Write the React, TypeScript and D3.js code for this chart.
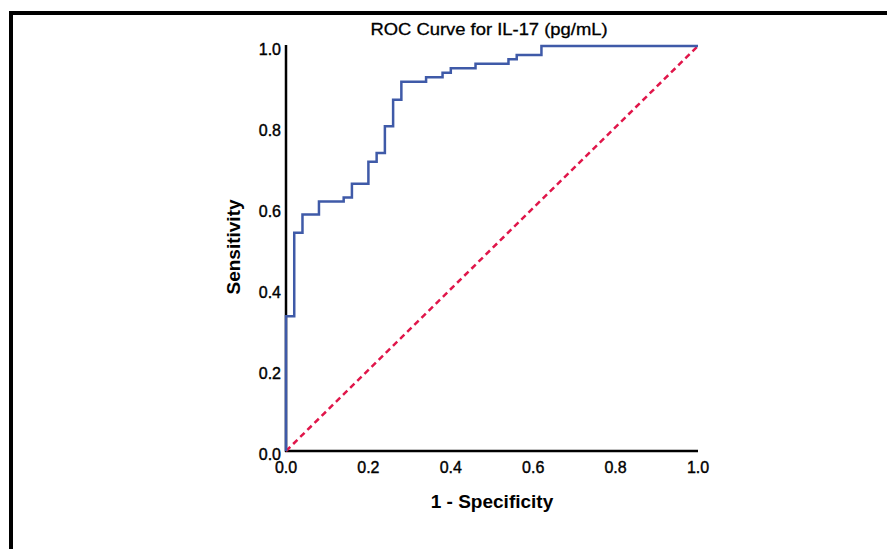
import * as d3 from 'd3';

// ROC step points: x where each horizontal run ends, y = its level
const fpr = [0, 0.02, 0.04, 0.08, 0.14, 0.16, 0.2, 0.22, 0.24, 0.26, 0.28, 0.34, 0.38, 0.4, 0.46, 0.54, 0.56, 0.62, 1.0];
const tpr = [0, 0.333, 0.539, 0.584, 0.616, 0.626, 0.66, 0.714, 0.736, 0.802, 0.867, 0.912, 0.923, 0.934, 0.945, 0.956, 0.967, 0.978, 1.0];
const tickValues = [0, 0.2, 0.4, 0.6, 0.8, 1.0];
const title = 'ROC Curve for IL-17 (pg/mL)';
const xLabel = '1 - Specificity';
const yLabel = 'Sensitivity';

const width = 887;
const height = 549;
const plot = { left: 286, right: 698, top: 46, bottom: 451 };
const font = '"Liberation Sans", Arial, sans-serif';
const stretch = 1.15; // title text in the source is a bit wide

export default function App() {
  const x = d3.scaleLinear().domain([0, 1]).range([plot.left, plot.right]);
  const y = d3.scaleLinear().domain([0, 1]).range([plot.bottom, plot.top]);

  const points: [number, number][] = fpr.map((f, i) => [f, tpr[i]]);
  const roc = d3.line<[number, number]>()
    .x(d => x(d[0]))
    .y(d => y(d[1]))
    .curve(d3.curveStepBefore)(points);

  const fmt = d3.format('.1f');

  return (
    <svg width={width} height={height} style={{ position: 'absolute', left: 0, top: 0, background: '#fff' }}>
      {/* frame, runs off the right and bottom edge */}
      <rect x={11} y={13} width={900} height={560} fill="none" stroke="#000" strokeWidth={4} />

      <g transform={`translate(${(plot.left + plot.right) / 2 - 3},35) scale(${stretch},1)`}>
        <text textAnchor="middle" fontFamily={font} fontSize={16} fill="#000"
          stroke="#000" strokeWidth={0.3}>{title}</text>
      </g>

      {/* axes */}
      <line x1={x(0)} x2={x(0)} y1={y(1) - 1} y2={y(0) + 1} stroke="#000" strokeWidth={2.5} />
      <line x1={x(0) - 1} x2={x(1)} y1={y(0)} y2={y(0)} stroke="#000" strokeWidth={2.5} />

      {tickValues.map(t => (
        <text key={'y' + t} x={x(0) - 5} y={y(t) + 9} textAnchor="end" fontFamily={font}
          fontSize={16} fill="#000" stroke="#000" strokeWidth={0.4}>{fmt(t)}</text>
      ))}
      {tickValues.map(t => (
        <text key={'x' + t} x={x(t)} y={y(0) + 22} textAnchor="middle" fontFamily={font}
          fontSize={16} fill="#000" stroke="#000" strokeWidth={0.4}>{fmt(t)}</text>
      ))}

      <text x={(plot.left + plot.right) / 2} y={508} textAnchor="middle" fontFamily={font}
        fontSize={19} fontWeight="bold" fill="#000">{xLabel}</text>
      <text transform={`translate(240,247) rotate(-90)`} textAnchor="middle" fontFamily={font}
        fontSize={19} fontWeight="bold" fill="#000">{yLabel}</text>

      {/* reference diagonal */}
      <line x1={x(0)} y1={y(0)} x2={x(1)} y2={y(1)} stroke="#e0164a" strokeWidth={2.5} strokeDasharray="6,4" />

      <path d={roc ?? ''} fill="none" stroke="#3f5aa8" strokeWidth={2.5} />
    </svg>
  );
}
